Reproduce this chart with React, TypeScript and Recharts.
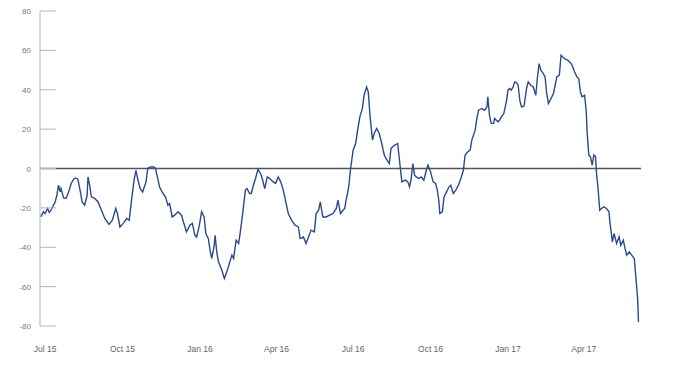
import { LineChart, Line, XAxis, YAxis, ReferenceLine } from "recharts";

// days counted from 1 Jul 2015
const DAYS = [
  -5, -2, 0, 3, 5, 7, 10, 12, 14, 16, 18, 19, 22, 25, 28, 31, 34, 36, 39, 42,
  44, 47, 50, 51, 53, 55, 59, 63, 67, 71, 76, 80, 84, 86, 89, 93, 97, 100, 103, 106,
  108, 110, 113, 116, 118, 120, 122, 125, 129, 131, 133, 136, 139, 143, 146, 148, 151, 154, 158, 162,
  165, 168, 172,
  175, 178, 180, 183, 186, 189, 191, 194, 196, 198, 201, 202, 204, 206, 210, 213, 216, 219, 222, 224,
  227, 230, 232, 235, 238, 240, 243, 245, 247, 250, 253, 256, 258, 261, 264, 267, 271, 274, 277, 280,
  283, 286, 289, 293, 297, 301, 303, 307, 310, 313, 316, 320, 322, 325, 327, 330, 334, 338, 342, 346,
  348, 351, 354,
  356, 358, 359, 361, 363, 366, 369, 371, 374, 377, 379, 382, 384, 386, 389, 391, 394, 397, 400, 403,
  405, 409, 411, 415, 419, 420, 423, 424, 428, 431, 433, 435, 437, 439, 441, 444, 447, 450, 453, 455,
  458, 461, 464, 466, 468, 469, 472, 474, 477, 480, 482, 485, 488, 491, 494, 497, 499, 502, 505, 507,
  511, 513, 515, 519, 522, 525, 526, 528, 530, 533, 534, 538, 540, 542, 545,
  548, 550, 552, 554, 556, 558, 560, 562, 564, 566, 569, 572, 574, 577, 580, 583, 585, 587, 589, 592,
  594, 596, 598, 601, 604, 606, 608, 611, 613, 616, 618, 621, 625, 627, 629, 632, 634, 636, 638, 641,
  643, 644, 646, 648, 650, 652, 654, 655, 657, 659, 661, 664, 667, 670, 671, 674, 676, 679, 682, 684,
  687, 689, 691, 694, 697, 700, 702, 704, 705,
];

const VALUES = [
  -24.6, -22.0, -22.9, -20.3, -22.3, -21.2, -18.6, -17.0, -13.6, -8.5, -11.9, -10.2, -14.9, -15.2, -11.9, -7.6, -5.4, -4.8, -5.4, -11.9,
  -17.0, -18.6, -13.6, -4.3, -8.5, -14.4, -15.2, -17.0, -21.2, -25.4, -28.4, -26.3, -20.3, -22.9, -29.7, -27.9, -25.4, -26.3, -15.2, -5.1,
  -0.9, -5.1, -10.2, -11.9, -9.3, -6.8, 0, 0.8, 0.8, 0.3, -3.4, -9.3, -11.9, -14.4, -18.6, -17.8, -24.6, -23.7, -22.0, -23.7,
  -27.9, -32.2, -28.8,
  -27.9, -33.9, -34.8, -29.7, -22.0, -24.6, -33.0, -35.6, -41.5, -45.7, -39.0, -33.9, -42.4, -47.4, -51.6, -55.9, -52.5, -48.2, -44.0, -45.7,
  -36.4, -38.1, -32.2, -22.0, -11.0, -10.2, -12.7, -12.7, -9.3, -5.1, -0.4, -2.5, -5.1, -10.2, -4.3, -5.1, -6.8, -7.6, -4.3, -6.8,
  -11.0, -17.0, -22.9, -26.3, -28.8, -29.7, -35.6, -34.8, -38.1, -34.8, -31.3, -32.2, -22.9, -21.2, -17.0, -24.6, -24.6, -23.7, -22.9, -20.3,
  -16.1, -22.9, -21.2,
  -20.3, -15.2, -13.6, -8.5, 0, 9.3, 12.7, 18.6, 26.2, 30.5, 37.2, 41.4, 38.9, 27.1, 14.4, 17.8, 20.3, 17.8, 12.7, 6.8,
  5.1, 2.5, 10.2, 11.8, 12.7, 8.4, -3.4, -6.8, -5.9, -6.8, -9.3, -5.1, 2.5, -3.4, -4.3, -5.1, -4.3, -5.9, -0.9, 1.7,
  -1.7, -6.8, -7.6, -11.0, -17.0, -22.9, -22.0, -14.4, -11.9, -9.3, -8.5, -12.7, -11.0, -8.5, -5.1, -0.9, 6.8, 8.4, 9.3, 14.4,
  19.5, 25.4, 29.6, 30.5, 29.6, 31.3, 36.4, 27.1, 22.9, 22.9, 25.4, 23.7, 24.5, 26.2, 27.9,
  33.8, 39.8, 40.6, 39.8, 41.4, 44.0, 43.7, 42.3, 34.7, 31.3, 31.6, 40.6, 44.0, 42.3, 41.4, 37.2, 46.5, 53.3, 49.9, 48.2,
  46.5, 38.1, 33.0, 35.5, 38.1, 42.3, 46.5, 47.4, 57.5, 56.2, 55.5, 55.0, 53.3, 51.6, 49.1, 46.5, 45.7, 38.9, 36.4, 37.2,
  28.7, 18.6, 6.8, 5.9, 1.7, 6.8, 5.9, -1.7, -10.2, -21.2, -20.3, -19.5, -20.3, -22.0, -27.1, -37.3, -33.0, -38.1, -34.7, -39.0,
  -36.4, -40.6, -44.0, -42.4, -44.0, -45.7, -55.9, -66.0, -77.9,
];

const X_TICKS = [0, 92, 184, 275, 366, 458, 550, 640];
const X_LABELS = ["Jul 15", "Oct 15", "Jan 16", "Apr 16", "Jul 16", "Oct 16", "Jan 17", "Apr 17"];
const Y_TICKS = [-80, -60, -40, -20, 0, 20, 40, 60, 80];

const data = DAYS.map((d, i) => ({ day: d, value: VALUES[i] }));

const FONT = "'Liberation Sans', Arial, sans-serif";

function YTick({ x, y, payload }: any) {
  return (
    <g>
      <line x1={x + 9} x2={x + 25} y1={y} y2={y} stroke="#b5b5b5" strokeWidth={1} />
      <text x={x} y={y} dy={3} textAnchor="end" fontSize={8} fill="#777" fontFamily={FONT}>
        {payload.value}
      </text>
    </g>
  );
}

function XTick({ x, y, payload }: any) {
  const idx = X_TICKS.indexOf(payload.value);
  return (
    <text x={x} y={y} dy={6} textAnchor="middle" fontSize={8.5} fill="#666" fontFamily={FONT}>
      {X_LABELS[idx]}
    </text>
  );
}

export default function App() {
  return (
    <div style={{ position: "absolute", left: 0, top: 0, background: "#fff" }}>
      <LineChart width={680} height={370} data={data} margin={{ top: 11, right: 39, left: 0, bottom: 0 }}>
        <XAxis
          dataKey="day"
          type="number"
          domain={[-6, 708]}
          ticks={X_TICKS}
          axisLine={false}
          tickLine={false}
          tickSize={0}
          tickMargin={20}
          height={44}
          tick={<XTick />}
          interval={0}
        />
        <YAxis
          type="number"
          domain={[-80, 80]}
          ticks={Y_TICKS}
          width={40}
          tickSize={0}
          tickMargin={9}
          tickLine={false}
          axisLine={{ stroke: "#b5b5b5", strokeWidth: 1 }}
          tick={<YTick />}
          interval={0}
        />
        <ReferenceLine y={0} stroke="#555" strokeWidth={1.5} />
        <Line
          type="linear"
          dataKey="value"
          stroke="#2b4a8b"
          strokeWidth={1.4}
          dot={false}
          isAnimationActive={false}
        />
      </LineChart>
    </div>
  );
}
